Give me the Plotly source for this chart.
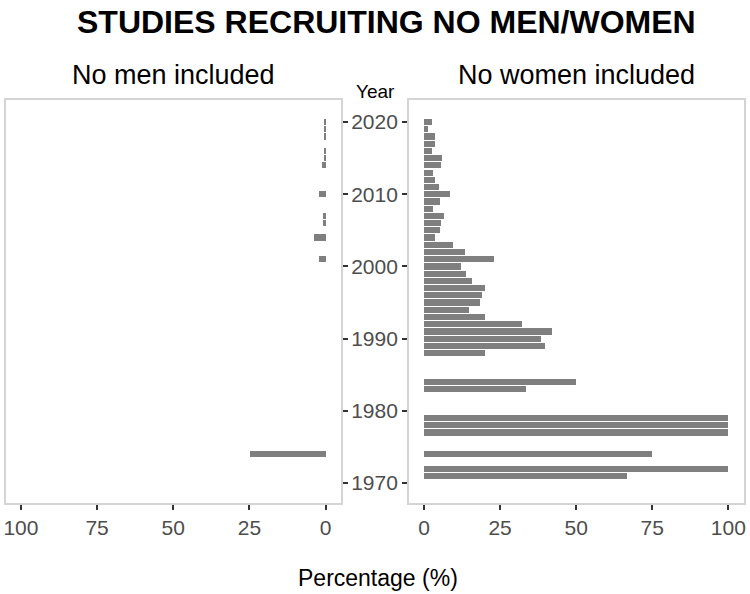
import plotly.graph_objects as go

# "No men included" panel (percentage of studies per year)
men_years = [2020, 2019, 2018, 2016, 2015, 2014, 2010, 2007, 2006, 2004, 2001, 1974]
men_pct = [0.4, 0.4, 0.4, 0.5, 0.3, 1.3, 2.2, 0.9, 0.9, 3.9, 2.2, 25]

# "No women included" panel
women_years = [
    2020, 2019, 2018, 2017, 2016, 2015, 2014, 2013, 2012, 2011,
    2010, 2009, 2008, 2007, 2006, 2005, 2004, 2003, 2002, 2001,
    2000, 1999, 1998, 1997, 1996, 1995, 1994, 1993, 1992, 1991,
    1990, 1989, 1988, 1984, 1983, 1979, 1978, 1977, 1974, 1972, 1971,
]
women_pct = [
    2.5, 1.1, 3.6, 3.4, 2.7, 5.8, 5.4, 3.0, 3.6, 4.9,
    8.5, 5.3, 2.9, 6.5, 5.6, 5.2, 3.7, 9.5, 13.5, 22.9,
    12.1, 13.6, 15.7, 20.0, 19.1, 18.3, 14.8, 20.0, 32.0, 42.0,
    38.4, 39.8, 20.0, 50.0, 33.3, 100, 100, 100, 75.0, 100, 66.7,
]

year_ticks = [1970, 1980, 1990, 2000, 2010, 2020]
pct_ticks = [0, 25, 50, 75, 100]

W, H = 750, 594
BAR = "#7f7f7f"
BORDER = "#d4d4d4"
FONT = "Liberation Sans"


def px(x):
    return x / W


def py(y):
    return 1 - y / H


fig = go.Figure()
fig.add_trace(go.Bar(x=men_pct, y=men_years, orientation="h", width=0.85,
                     marker=dict(color=BAR, line=dict(width=0)),
                     xaxis="x", yaxis="y", showlegend=False))
fig.add_trace(go.Bar(x=women_pct, y=women_years, orientation="h", width=0.85,
                     marker=dict(color=BAR, line=dict(width=0)),
                     xaxis="x2", yaxis="y2", showlegend=False))

xcommon = dict(tickvals=pct_ticks, ticks="outside", ticklen=5, tickwidth=1.5,
               tickcolor="#333333", showgrid=False, zeroline=False,
               showline=True, linecolor=BORDER, linewidth=1.5, mirror=True,
               tickfont=dict(size=21, color="#4d4d4d", family=FONT))
ycommon = dict(range=[1967.2, 2023.05], tickvals=year_ticks, ticks="outside",
               ticklen=5, tickwidth=1.5, tickcolor="#333333", showgrid=False,
               zeroline=False, showline=True, linecolor=BORDER, linewidth=1.5,
               mirror=True, domain=[py(503.3), py(100)],
               tickfont=dict(size=21, color="#4d4d4d", family=FONT))

fig.update_layout(
    width=W, height=H,
    margin=dict(l=0, r=0, t=0, b=0),
    paper_bgcolor="white", plot_bgcolor="white",
    bargap=0,
    xaxis=dict(xcommon, range=[105, -5], domain=[px(3.7), px(340.6)], anchor="y"),
    yaxis=dict(ycommon, side="right", showticklabels=False, anchor="x"),
    xaxis2=dict(xcommon, range=[-5, 105], domain=[px(409), px(745.5)], anchor="y2"),
    yaxis2=dict(ycommon, side="left", anchor="x2"),
    font=dict(family=FONT),
)

ann = [
    ("<b>STUDIES RECRUITING NO MEN/WOMEN</b>", px(387), py(22), 32),
    ("No men included", px(172), py(75), 27),
    ("No women included", px(578), py(75), 27),
    ("Year", px(375), py(91), 19),
    ("Percentage (%)", px(378), py(578), 23),
]
for text, x, y, size in ann:
    fig.add_annotation(text=text, x=x, y=y, xref="paper", yref="paper",
                       showarrow=False, xanchor="center", yanchor="middle",
                       font=dict(size=size, color="black", family=FONT))

# drop the default 8px body margin so the figure sits at the window corner
fig.write_html("out.html", config={"displayModeBar": False},
               post_script="document.body.style.margin = '0';")
